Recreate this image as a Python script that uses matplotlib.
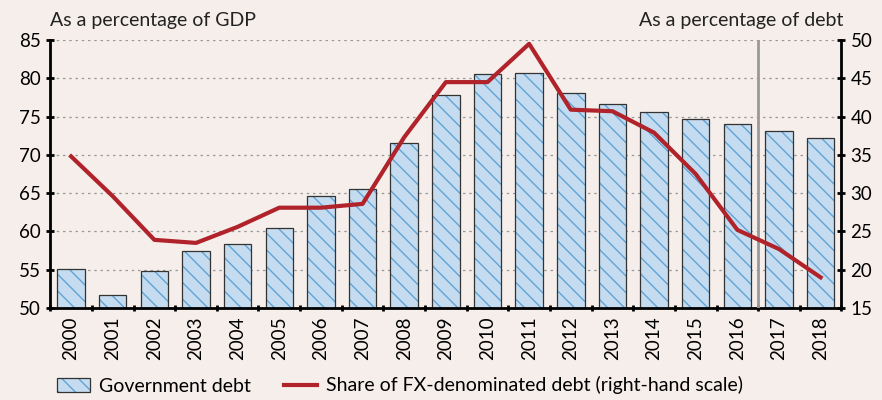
import matplotlib
matplotlib.use("Agg")
import matplotlib.pyplot as plt
import numpy as np
from matplotlib.patches import Patch
from matplotlib.lines import Line2D
from matplotlib.legend_handler import HandlerTuple

years = ["2000", "2001", "2002", "2003", "2004", "2005", "2006", "2007", "2008", "2009",
         "2010", "2011", "2012", "2013", "2014", "2015", "2016", "2017", "2018"]
gov_debt = [55.1, 51.7, 54.8, 57.4, 58.4, 60.4, 64.6, 65.5, 71.5, 77.8,
            80.6, 80.7, 78.1, 76.6, 75.6, 74.7, 74.0, 73.1, 72.2]
fx_share = [34.8, 29.6, 23.9, 23.5, 25.6, 28.1, 28.1, 28.6, 37.3, 44.5,
            44.5, 49.5, 40.9, 40.7, 37.9, 32.5, 25.2, 22.7, 19.0]
left_ticks = [50, 55, 60, 65, 70, 75, 80, 85]
right_ticks = [15, 20, 25, 30, 35, 40, 45, 50]

plt.rcParams['font.family'] = ['Lato', 'DejaVu Sans']
plt.rcParams['hatch.linewidth'] = 1.0

bg = '#f5eeeb'
fill = '#c5dcf0'
hatch_col = '#5fa3d6'
edge = '#333333'
red = '#b0232a'
fs = 13.5
fs_leg = 14

fig = plt.figure(figsize=(8.82, 4.0), dpi=100, facecolor=bg)
ax = fig.add_axes([0.057, 0.23, 0.897, 0.67])
ax.set_facecolor(bg)
x = np.arange(len(years))
ax.bar(x, gov_debt, width=0.66, color=fill, edgecolor=hatch_col, linewidth=0,
       hatch='\\\\', zorder=2)
ax.bar(x, gov_debt, width=0.66, color='none', edgecolor=edge, linewidth=0.9, zorder=2.5)
ax.set_ylim(50, 85)
ax.set_xlim(-0.5, len(years) - 0.5)
ax.set_yticks(left_ticks)
ax.yaxis.grid(True, linestyle=(0, (2, 3)), color='#999999', linewidth=0.9, zorder=0)
ax.set_axisbelow(True)
ax.set_xticks(x)
ax.set_xticklabels(years, rotation=90, fontsize=fs)
ax.tick_params(axis='x', length=0, pad=6)
ax.set_xticks(np.arange(-0.5, len(years), 1), minor=True)
ax.tick_params(axis='x', which='minor', length=5, width=2, direction='inout')
ax.tick_params(axis='y', labelsize=fs, length=6, width=2, direction='inout')
for s in ['top', 'right']:
    ax.spines[s].set_visible(False)
ax.spines['left'].set_linewidth(2)
ax.spines['bottom'].set_linewidth(2)

ax.axvline(16.5, color='#999999', linewidth=2, zorder=3)

ax2 = ax.twinx()
ax2.plot(x, fx_share, color=red, linewidth=3, zorder=4)
ax2.set_ylim(15, 50)
ax2.set_yticks(right_ticks)
ax2.tick_params(axis='y', labelsize=fs, length=6, width=2, direction='inout')
for s in ['top', 'left', 'bottom']:
    ax2.spines[s].set_visible(False)
ax2.spines['right'].set_linewidth(2)

fig.text(0.057, 0.935, 'As a percentage of GDP', fontsize=fs_leg, color='#222222')
fig.text(0.956, 0.935, 'As a percentage of debt', fontsize=fs_leg, color='#222222', ha='right')

bar_handle = (Patch(facecolor=fill, edgecolor=hatch_col, hatch='\\\\', linewidth=0),
              Patch(facecolor='none', edgecolor=edge, linewidth=0.9))
handles = [bar_handle, Line2D([0], [0], color=red, linewidth=3)]
fig.legend(handles, ['Government debt', 'Share of FX-denominated debt (right-hand scale)'],
           handler_map={tuple: HandlerTuple(ndivide=1, pad=0)},
           loc='lower left', bbox_to_anchor=(0.045, -0.03), ncol=2, frameon=False,
           fontsize=fs_leg, handlelength=1.7, columnspacing=1.7, handletextpad=0.45)

fig.savefig('out.png', dpi=100, facecolor=bg)
